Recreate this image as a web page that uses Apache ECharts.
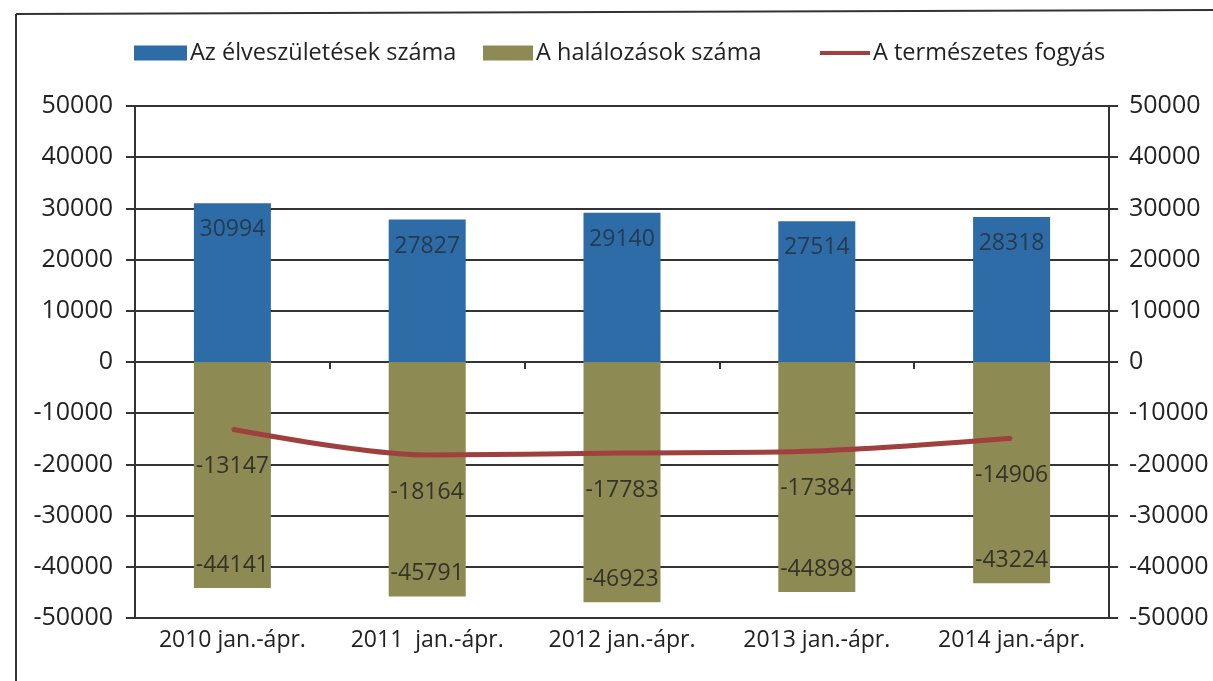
<!DOCTYPE html>
<html>
<head>
<meta charset="utf-8">
<script src="https://cdn.jsdelivr.net/npm/echarts@6/dist/echarts.min.js"></script>
<style>
html, body { margin: 0; padding: 0; background: #fff; }
#chart { width: 1213px; height: 681px; }
</style>
</head>
<body>
<div id="chart"></div>
<script>
var categories = ['2010 jan.-ápr.', '2011  jan.-ápr.', '2012 jan.-ápr.', '2013 jan.-ápr.', '2014 jan.-ápr.'];
var births = [30994, 27827, 29140, 27514, 28318];
var deaths = [-44141, -45791, -46923, -44898, -43224];
var decrease = [-13147, -18164, -17783, -17384, -14906];
var seriesNames = ['Az élveszületések száma', 'A halálozások száma', 'A természetes fogyás'];

var font = '"Open Sans", "DejaVu Sans", sans-serif';
var gridColor = '#333';
var lineColor = '#a0403e';
var textColor = '#222';

function plain(v) {
    return String(v);
}

var legendText = { fontFamily: font, fontSize: 23.5, color: textColor, padding: [0, 0, 0, -2] };

var myChart = echarts.init(document.getElementById('chart'));
var option = {
    backgroundColor: '#fff',
    textStyle: { fontFamily: font },
    graphic: [
        /*frame of the scanned page*/
        { type: 'line', shape: { x1: 16, y1: 14, x2: 1213, y2: 10 }, style: { stroke: '#333', lineWidth: 2 } },
        { type: 'line', shape: { x1: 16, y1: 14, x2: 16, y2: 681 }, style: { stroke: '#333', lineWidth: 2 } }
    ],
    legend: [
        {
            data: [seriesNames[0]], left: 129, top: 36, icon: 'rect',
            itemWidth: 53, itemHeight: 15,
            textStyle: legendText
        },
        {
            data: [seriesNames[1]], left: 478, top: 36, icon: 'rect',
            itemWidth: 50, itemHeight: 15,
            textStyle: legendText
        },
        {
            data: [seriesNames[2]], left: 815, top: 36, icon: 'rect',
            itemWidth: 50, itemHeight: 4,
            itemStyle: { color: lineColor, opacity: 1 },
            textStyle: legendText
        }
    ],
    grid: { left: 135, right: 104, top: 106, bottom: 63, outerBoundsMode: 'none', containLabel: false },
    xAxis: [
        {
            type: 'category',
            data: categories,
            position: 'bottom',
            axisLine: { onZero: false, lineStyle: { color: gridColor, width: 2 } },
            axisTick: { show: false },
            axisLabel: { interval: 0, hideOverlap: false, margin: 11, fontSize: 23, color: textColor, fontFamily: font }
        },
        {
            /*category ticks sitting on the zero line*/
            type: 'category',
            data: categories,
            position: 'bottom',
            axisLine: { onZero: true, lineStyle: { color: gridColor, width: 2 } },
            axisTick: { show: true, length: 7, lineStyle: { color: gridColor, width: 2 } },
            axisLabel: { show: false }
        }
    ],
    yAxis: [
        {
            type: 'value', min: -50000, max: 50000, interval: 10000, position: 'left',
            axisLine: { show: true, lineStyle: { color: gridColor, width: 2 } },
            axisTick: { show: true, length: 9, lineStyle: { color: gridColor, width: 2 } },
            splitLine: { lineStyle: { color: gridColor, width: 2 } },
            axisLabel: { margin: 22, fontSize: 25, color: textColor, fontFamily: font, formatter: plain }
        },
        {
            type: 'value', min: -50000, max: 50000, interval: 10000, position: 'right',
            axisLine: { show: true, lineStyle: { color: gridColor, width: 2 } },
            axisTick: { show: true, length: 9, lineStyle: { color: gridColor, width: 2 } },
            splitLine: { show: false },
            axisLabel: { margin: 20, fontSize: 25, color: textColor, fontFamily: font, formatter: plain }
        }
    ],
    series: [
        {
            name: seriesNames[0],
            type: 'bar',
            data: births,
            barWidth: 77,
            itemStyle: { color: '#2d6ca7' },
            label: { show: true, position: 'insideTop', distance: 15, fontSize: 23, color: '#263a50', fontFamily: font }
        },
        {
            name: seriesNames[1],
            type: 'bar',
            data: deaths,
            barWidth: 77,
            barGap: '-100%',
            itemStyle: { color: '#8e8a53' },
            label: { show: true, position: 'insideBottom', distance: 11, fontSize: 23, color: '#33332a', fontFamily: font }
        },
        {
            name: seriesNames[2],
            type: 'line',
            data: decrease,
            smooth: 0.3,
            symbol: 'circle',
            symbolSize: 2,
            showSymbol: true,
            z: 5,
            lineStyle: { color: lineColor, width: 5 },
            itemStyle: { color: lineColor },
            label: { show: true, position: 'bottom', distance: 25, fontSize: 23, color: '#33332a', fontFamily: font }
        }
    ]
};
myChart.setOption(option);
</script>
</body>
</html>
